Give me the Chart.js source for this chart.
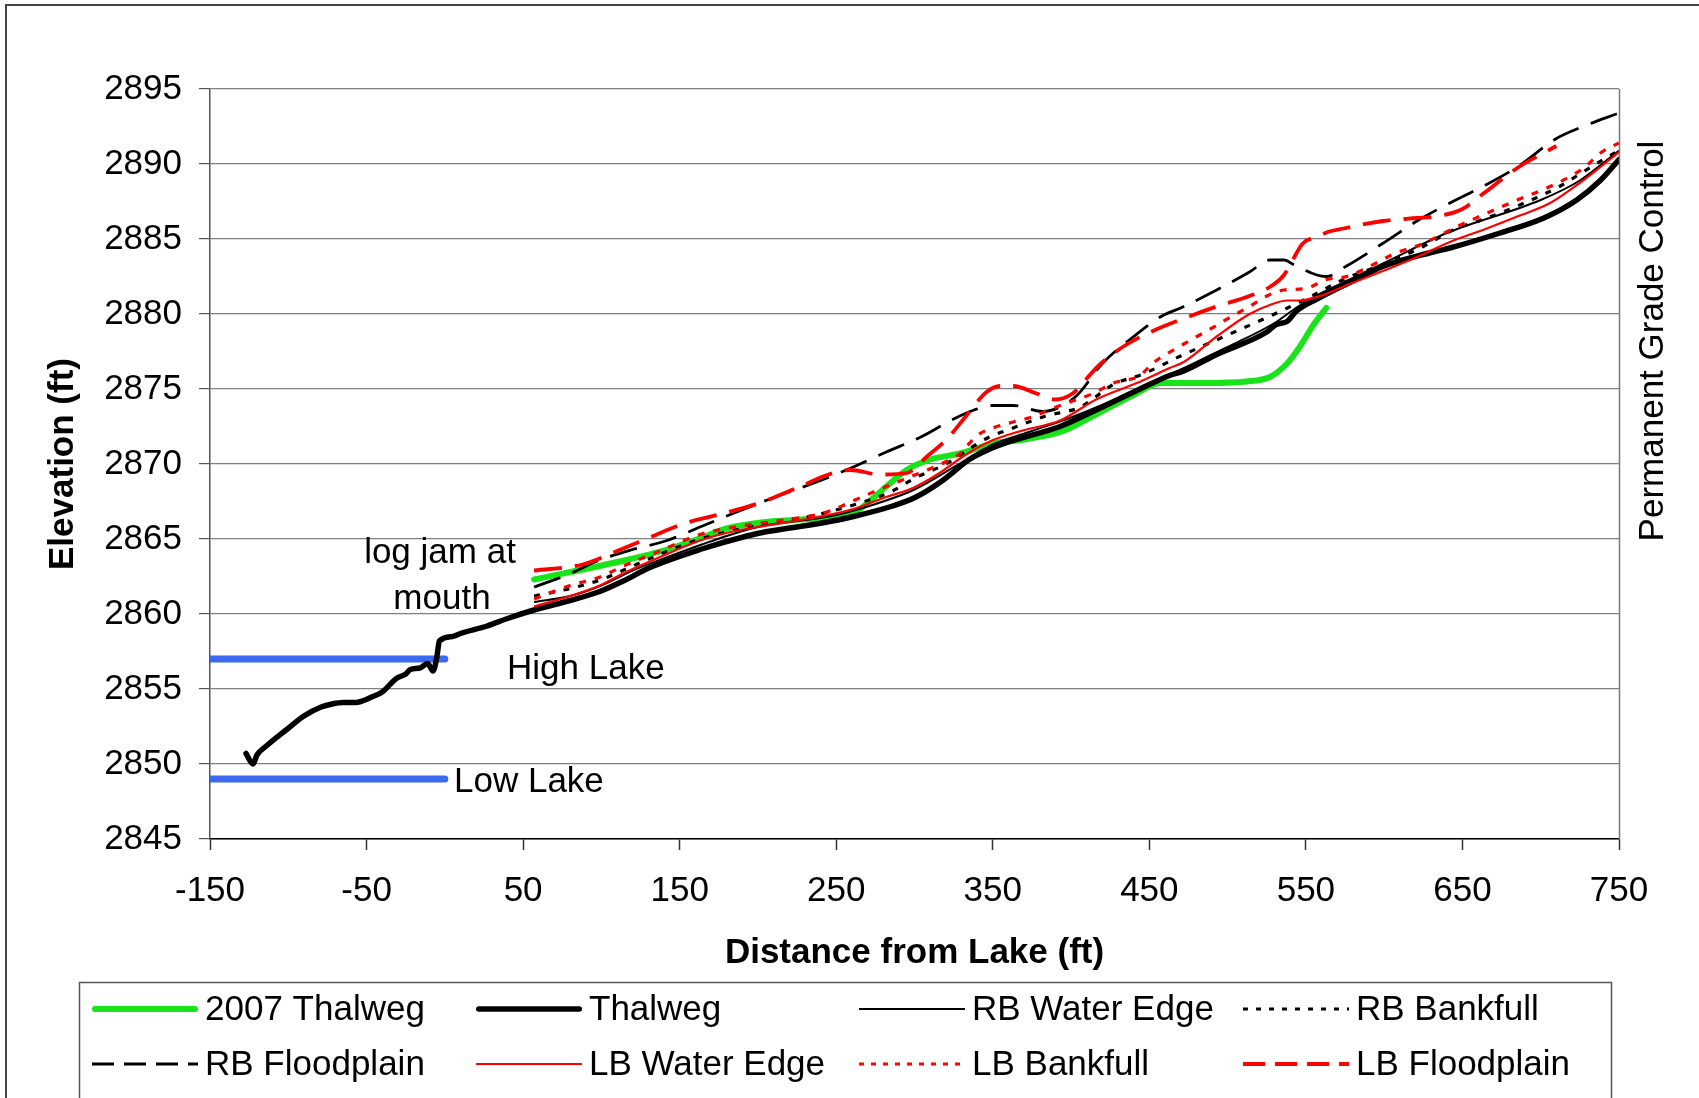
<!DOCTYPE html>
<html><head><meta charset="utf-8">
<script src="https://cdn.jsdelivr.net/npm/chart.js@4.4.1/dist/chart.umd.min.js"></script>
<style>html,body{margin:0;padding:0;background:#fff;overflow:hidden;} #wrap{width:1699px;height:1098px;position:relative;}</style>
</head><body><div id="wrap"><canvas id="c"></canvas></div>
<script>
// ---- data (distance from lake, ft / elevation, ft) ----
const xTickMin = -150, xTickMax = 750, xTickStep = 100;
const yTickMin = 2845, yTickMax = 2895, yTickStep = 5;

const thalweg2007Dist = [57,116,142,163,180,202,227,259,270,282,295,310,329,352,368,395,414,440,457,485,512,527,538,546,555,563];
const thalweg2007Elev = [2862.3,2863.6,2864.3,2865.05,2865.7,2866.1,2866.3,2866.6,2867.4,2868.5,2869.6,2870.3,2870.7,2871.4,2871.6,2872.2,2873.2,2874.6,2875.4,2875.4,2875.5,2875.8,2876.7,2877.8,2879.3,2880.4];

const thalwegDist = [-127,-122.5,-120,-114,-101,-90,-79,-72,-65,-57,-46,-40,-31,-25,-22,-16,-11,-7.5,-5,-3.5,5,10,27,40,58,80,99,114,131,163,193,206,240,261,286,301,318,335,346,361,393,414,442,463,472,493,525,531,538,544,557,578,600,630,642,674,702,723,738,750];
const thalwegElev = [2850.7,2850.0,2850.6,2851.2,2852.3,2853.2,2853.8,2854.0,2854.1,2854.1,2854.5,2854.8,2855.7,2856.0,2856.3,2856.4,2856.7,2856.2,2857.2,2858.2,2858.5,2858.7,2859.2,2859.7,2860.3,2860.9,2861.5,2862.2,2863.1,2864.3,2865.2,2865.5,2866.05,2866.5,2867.2,2867.8,2868.9,2870.3,2870.9,2871.5,2872.5,2873.5,2874.9,2875.9,2876.2,2877.3,2878.8,2879.3,2879.5,2880.2,2881.0,2882.1,2883.2,2884.1,2884.4,2885.4,2886.4,2887.6,2888.9,2890.3];

const rbWaterDist = [57,80,100,120,150,180,200,250,280,300,330,350,375,400,450,470,500,530,545,560,580,600,640,700,725,750];
const rbWaterElev = [2860.8,2861.2,2861.9,2862.9,2864.1,2865.2,2865.8,2866.6,2867.5,2868.3,2870.1,2871.3,2872.2,2873.1,2875.3,2876.3,2877.8,2879.4,2880.5,2881.4,2882.4,2883.4,2885.4,2887.6,2888.9,2890.9];

const rbBankDist = [57,80,100,120,140,163,205,233,262,284,301,320,346,363,384,406,427,446,470,500,530,550,574,604,625,644,663,685,712,723,740,750];
const rbBankElev = [2861.2,2861.7,2862.3,2863.2,2864.1,2865.0,2866.0,2866.5,2867.3,2868.1,2869.1,2870.0,2871.7,2872.4,2873.2,2873.8,2875.3,2876.0,2877.2,2878.6,2880.0,2881.0,2882.3,2883.5,2884.5,2885.6,2886.3,2887.2,2888.5,2889.2,2890.3,2890.9];

const rbFloodDist = [57,78,99,120,142,163,184,206,240,261,282,304,325,338,350,363,382,393,404,420,440,457,472,493,514,527,536,542,557,563,576,599,621,642,663,685,710,727,750];
const rbFloodElev = [2861.8,2862.6,2863.6,2864.3,2864.9,2865.8,2866.7,2867.6,2868.9,2869.8,2870.8,2871.8,2873.0,2873.6,2873.9,2873.9,2873.5,2873.8,2874.6,2876.7,2878.5,2879.8,2880.5,2881.6,2882.8,2883.6,2883.6,2883.3,2882.6,2882.5,2883.2,2884.7,2886.2,2887.4,2888.5,2889.8,2891.7,2892.5,2893.4];

const lbWaterDist = [57,80,99,112,120,142,163,184,206,240,261,282,299,316,331,348,368,393,416,442,463,472,493,514,527,538,546,559,578,600,621,642,663,685,706,727,750];
const lbWaterElev = [2860.5,2861.2,2861.9,2862.6,2863.0,2864.0,2864.9,2865.5,2865.9,2866.5,2867.0,2867.8,2868.4,2869.4,2870.5,2871.5,2872.2,2872.9,2874.3,2875.4,2876.4,2876.8,2878.5,2880.0,2880.6,2880.9,2880.9,2881.2,2882.0,2882.9,2883.8,2884.8,2885.6,2886.5,2887.4,2888.9,2890.8];

const lbBankDist = [57,80,100,112,135,163,185,205,244,262,282,301,321,329,340,350,363,374,393,414,427,444,452,472,489,502,514,525,536,550,563,576,595,606,625,646,663,685,706,727,739,750];
const lbBankElev = [2861.0,2861.9,2862.5,2863.1,2864.1,2865.3,2865.8,2866.1,2866.8,2867.6,2868.5,2869.3,2870.2,2870.7,2871.9,2872.4,2872.8,2873.1,2873.9,2874.7,2875.4,2875.9,2876.7,2878.0,2879.0,2879.8,2880.5,2881.2,2881.6,2881.7,2882.3,2882.5,2883.4,2884.0,2884.7,2885.8,2886.6,2887.6,2888.5,2889.7,2890.8,2891.4];

const lbFloodDist = [57,88,110,131,152,174,201,227,245,259,278,295,308,321,333,346,355,363,378,390,401,410,419,436,453,472,493,514,527,536,541,548,557,565,574,599,621,633,650,663,686,710];
const lbFloodElev = [2862.9,2863.3,2864.2,2865.1,2866.0,2866.6,2867.4,2868.5,2869.3,2869.6,2869.3,2869.4,2870.5,2871.7,2873.2,2874.8,2875.2,2875.2,2874.7,2874.3,2874.7,2875.7,2876.7,2878.0,2878.9,2879.7,2880.5,2881.2,2881.8,2882.6,2883.5,2884.7,2885.15,2885.5,2885.7,2886.2,2886.4,2886.5,2887.0,2888.0,2889.8,2891.2];

const highLakeDist = [-150, 0];
const highLakeElev = [2857, 2857];
const lowLakeDist = [-150, 0];
const lowLakeElev = [2849, 2849];

const seriesLabels = ['2007 Thalweg','Thalweg','RB Water Edge','RB Bankfull','RB Floodplain','LB Water Edge','LB Bankfull','LB Floodplain'];
const annotationTexts = ['log jam at','mouth','High Lake','Low Lake','Permanent Grade Control'];
const xTitle = 'Distance from Lake (ft)';
const yTitle = 'Elevation (ft)';

// ---- chart ----
const FONT = '"Liberation Sans", Arial, Helvetica, sans-serif';
function pts(xs, ys){ return xs.map((x,i)=>({x:x, y:ys[i]})); }

const GREEN = 'rgb(25,228,25)';
const BLUE = '#3b6af0';
const RED = '#ff0000';

const datasets = [
  {label:'High Lake', data:pts(highLakeDist, highLakeElev), borderColor:BLUE, borderWidth:7, borderCapStyle:'round', order:100, inLegend:false},
  {label:'Low Lake', data:pts(lowLakeDist, lowLakeElev), borderColor:BLUE, borderWidth:7, borderCapStyle:'round', order:101, inLegend:false},
  {label:seriesLabels[0], data:pts(thalweg2007Dist, thalweg2007Elev), borderColor:GREEN, borderWidth:6, borderCapStyle:'round', borderJoinStyle:'round', order:9, smooth:true},
  {label:seriesLabels[1], data:pts(thalwegDist, thalwegElev), borderColor:'#000', borderWidth:5.5, borderCapStyle:'round', borderJoinStyle:'round', order:8, smooth:true},
  {label:seriesLabels[2], data:pts(rbWaterDist, rbWaterElev), borderColor:'#000', borderWidth:2, order:7, smooth:true},
  {label:seriesLabels[3], data:pts(rbBankDist, rbBankElev), borderColor:'#000', borderWidth:3.2, borderDash:[6,9], order:6, legendDash:[5,8], smooth:true},
  {label:seriesLabels[4], data:pts(rbFloodDist, rbFloodElev), borderColor:'#000', borderWidth:2.8, borderDash:[28,13], order:5, legendDash:[22,10], smooth:true},
  {label:seriesLabels[5], data:pts(lbWaterDist, lbWaterElev), borderColor:RED, borderWidth:2.2, order:4, smooth:true},
  {label:seriesLabels[6], data:pts(lbBankDist, lbBankElev), borderColor:RED, borderWidth:3.2, borderDash:[7,9], order:3, legendDash:[5,7], smooth:true},
  {label:seriesLabels[7], data:pts(lbFloodDist, lbFloodElev), borderColor:RED, borderWidth:3.8, borderDash:[28,13], order:2, legendDash:[22,10], smooth:true}
];
datasets.forEach(d=>{
  d.showLine = true; d.pointRadius = 0; d.pointHoverRadius = 0; d.fill = false; d.tension = 0;
  if(d.smooth) d.cubicInterpolationMode = 'monotone';
  if(d.borderCapStyle===undefined) d.borderCapStyle='butt';
});

const bgPlugin = {
  id:'bg',
  beforeDraw(chart){ const c=chart.ctx; c.save(); c.fillStyle='#fff'; c.fillRect(0,0,chart.width,chart.height); c.restore(); }
};

const decorPlugin = {
  id:'decor',
  afterDraw(chart){
    const ctx = chart.ctx, a = chart.chartArea;
    ctx.save();
    // plot area right border
    ctx.strokeStyle = '#777'; ctx.lineWidth = 1.5;
    ctx.beginPath(); ctx.moveTo(a.right+0.5, a.top); ctx.lineTo(a.right+0.5, a.bottom); ctx.stroke();
    // outer frame
    ctx.strokeStyle = '#444'; ctx.lineWidth = 2;
    ctx.beginPath(); ctx.moveTo(6, 1098); ctx.lineTo(6, 5); ctx.lineTo(1699, 5); ctx.stroke();
    // annotations
    ctx.fillStyle = '#000';
    ctx.font = '35px ' + FONT;
    ctx.textBaseline = 'alphabetic';
    ctx.textAlign = 'center';
    ctx.fillText(annotationTexts[0], 440, 563);
    ctx.fillText(annotationTexts[1], 442, 609);
    ctx.textAlign = 'left';
    ctx.fillText(annotationTexts[2], 507, 679);
    ctx.fillText(annotationTexts[3], 454, 792);
    ctx.save();
    ctx.translate(1663, 341); ctx.rotate(-Math.PI/2);
    ctx.textAlign = 'center';
    ctx.fillText(annotationTexts[4], 0, 0);
    ctx.restore();
    // legend
    ctx.strokeStyle = '#555'; ctx.lineWidth = 1.5;
    ctx.strokeRect(79.5, 982.5, 1532, 140);
    const colX = [92, 476, 859, 1243];
    const rowY = [1009, 1064];
    const items = chart.data.datasets.filter(d=>d.inLegend!==false);
    items.forEach((d,i)=>{
      const col = i % 4, row = Math.floor(i/4);
      const x0 = colX[col], y = rowY[row];
      ctx.save();
      ctx.strokeStyle = d.borderColor;
      ctx.lineWidth = d.borderWidth;
      ctx.lineCap = d.borderCapStyle === 'round' ? 'round' : 'butt';
      ctx.setLineDash(d.legendDash || d.borderDash || []);
      ctx.beginPath();
      const pad = d.borderCapStyle === 'round' ? d.borderWidth/2 : 0;
      ctx.moveTo(x0 + pad, y); ctx.lineTo(x0 + 106 - pad, y); ctx.stroke();
      ctx.restore();
      ctx.fillStyle = '#000';
      ctx.textAlign = 'left'; ctx.textBaseline = 'middle';
      ctx.font = '35px ' + FONT;
      ctx.fillText(d.label, x0 + 113, y + 1);
    });
    ctx.restore();
  }
};

new Chart(document.getElementById('c'), {
  type:'scatter',
  data:{datasets:datasets},
  plugins:[bgPlugin, decorPlugin],
  options:{
    responsive:true, maintainAspectRatio:false, animation:false, devicePixelRatio:1,
    layout:{padding:{left:0, right:80, top:89, bottom:0}},
    plugins:{legend:{display:false}, tooltip:{enabled:false}},
    events:[],
    scales:{
      x:{
        type:'linear', min:xTickMin, max:xTickMax,
        ticks:{stepSize:xTickStep, autoSkip:false, maxRotation:0, padding:20, color:'#000', font:{family:FONT, size:35}, callback:v=>String(v)},
        grid:{drawOnChartArea:false, drawTicks:true, tickLength:11, tickColor:'#333', tickWidth:1.5},
        border:{color:'#000', width:1.5},
        title:{display:true, text:xTitle, color:'#000', font:{family:FONT, size:35, weight:'bold'}, padding:{top:0, bottom:124}},
        afterFit:s=>{ s.height = 259; }
      },
      y:{
        type:'linear', min:yTickMin, max:yTickMax,
        ticks:{stepSize:yTickStep, autoSkip:false, padding:17, color:'#000', font:{family:FONT, size:35}, callback:v=>String(v)},
        grid:{color:'#808080', lineWidth:1.2, drawTicks:true, tickLength:11, tickColor:'#555'},
        border:{color:'#555', width:1.5},
        title:{display:true, text:yTitle, color:'#000', font:{family:FONT, size:35, weight:'bold'}, padding:{top:42, bottom:0}},
        afterFit:s=>{ s.width = 210; }
      }
    }
  }
});
</script></body></html>
